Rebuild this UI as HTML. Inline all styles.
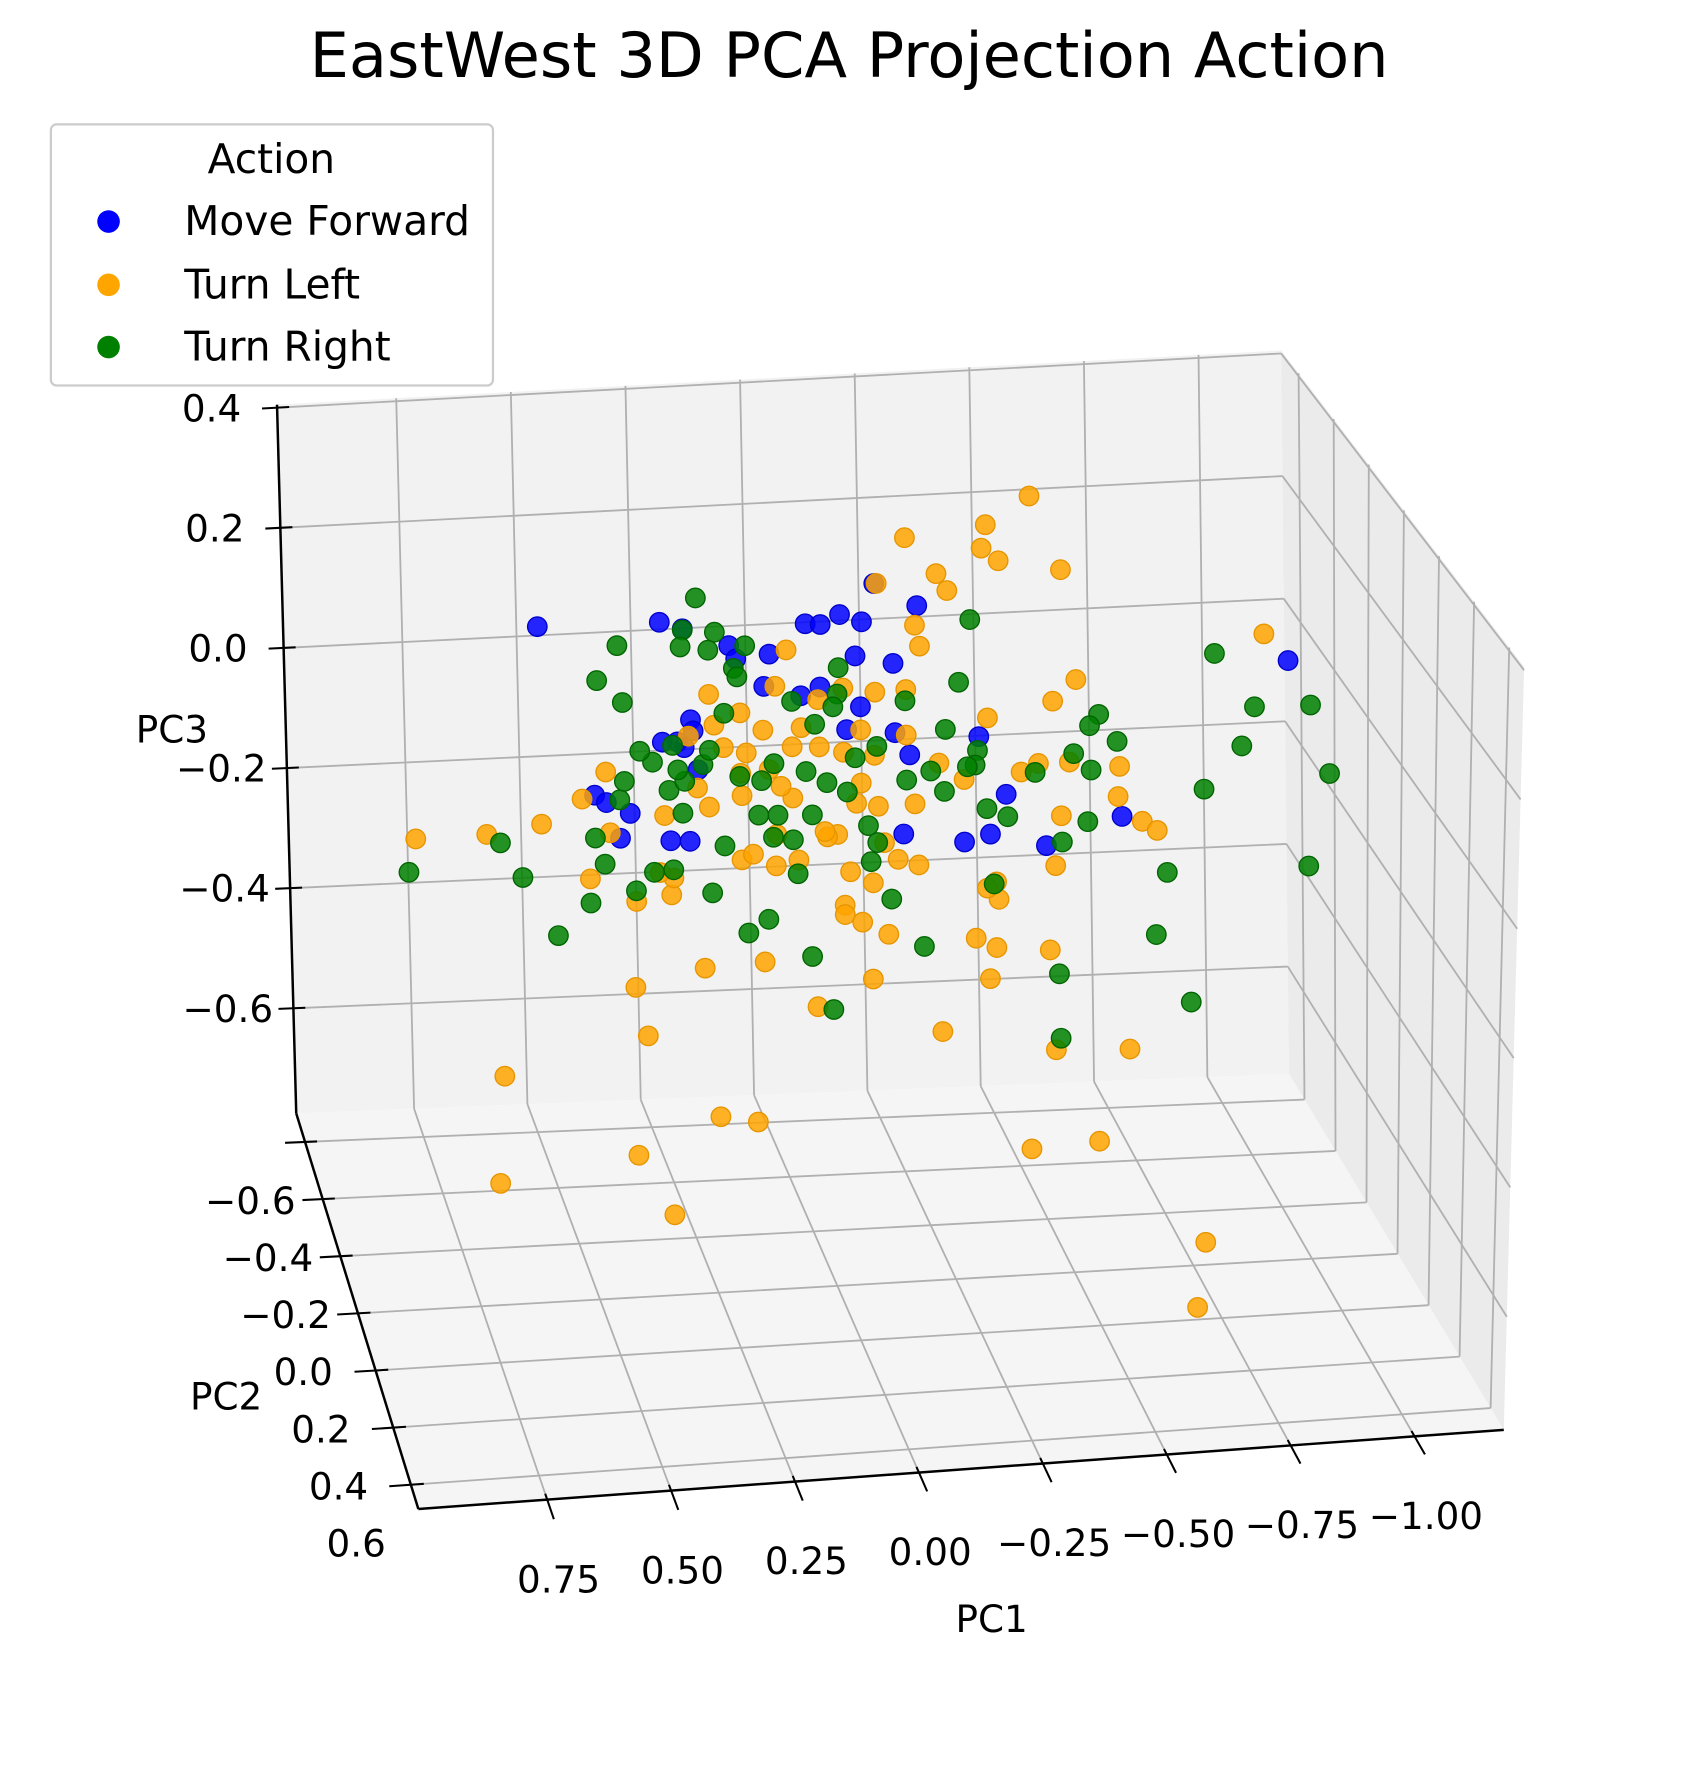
<!DOCTYPE html>
<html><head><meta charset="utf-8"><title>EastWest 3D PCA Projection Action</title>
<style>
html,body{margin:0;padding:0;background:#fff;}
svg{display:block;font-family:"DejaVu Sans","Liberation Sans",sans-serif;}
</style></head>
<body>
<svg id="chart" width="1696" height="1769" viewBox="0 0 1500 1565" preserveAspectRatio="none" xmlns="http://www.w3.org/2000/svg">
<rect x="0" y="0" width="1500" height="1565" fill="#fff"/>
<text x="751" y="68" font-size="55" text-anchor="middle" fill="#000">EastWest 3D PCA Projection Action</text>
<g id="panes"></g>
<g id="grid"></g>
<g id="axes"></g>
<g id="points"></g>
<text x="152" y="657" font-size="33" text-anchor="middle">PC3</text>
<text x="200" y="1247" font-size="33" text-anchor="middle">PC2</text>
<text x="877" y="1444" font-size="33" text-anchor="middle">PC1</text>
<g>
<rect x="45" y="110" width="391" height="231" rx="5" fill="#fff" fill-opacity="0.85" stroke="#cccccc" stroke-width="2"/>
<text x="240" y="153" font-size="36" text-anchor="middle">Action</text>
<g><circle cx="96" cy="196" r="10" fill="#0000ff"/><text x="163" y="208" font-size="36">Move Forward</text></g>
<g><circle cx="96" cy="252" r="10" fill="#ffa500"/><text x="163" y="264" font-size="36">Turn Left</text></g>
<g><circle cx="96" cy="307" r="10" fill="#008000"/><text x="163" y="319" font-size="36">Turn Right</text></g>
</g>
</svg>
<script>
// ---- data ----
const pc1Ticks = [0.75, 0.50, 0.25, 0.00, -0.25, -0.50, -0.75, -1.00];
const pc1TickLabels = ["0.75", "0.50", "0.25", "0.00", "\u22120.25", "\u22120.50", "\u22120.75", "\u22121.00"];
const pc2Ticks = [-0.8, -0.6, -0.4, -0.2, 0.0, 0.2, 0.4];
const pc2LabelValues = [-0.6, -0.4, -0.2, 0.0, 0.2, 0.4, 0.6];
const pc2TickLabels = ["\u22120.6", "\u22120.4", "\u22120.2", "0.0", "0.2", "0.4", "0.6"];
const pc3Ticks = [0.4, 0.2, 0.0, -0.2, -0.4, -0.6];
const pc3TickLabels = ["0.4", "0.2", "0.0", "\u22120.2", "\u22120.4", "\u22120.6"];

const forwardPC1 = [0.607,0.356,0.309,0.214,0.200,0.131,0.056,0.025,-0.015,-0.060,-0.086,-0.174,-0.046,-0.124,0.027,0.067,0.143,-0.027,-0.056,-0.127,-0.300,-0.157,0.295,0.290,0.323,0.354,0.309,0.281,0.496,0.472,0.423,0.444,0.340,0.300,-0.143,-0.269,-0.323,-0.356,-0.439,-0.596,-0.939];
const forwardPC3 = [0.310,0.304,0.291,0.259,0.237,0.241,0.286,0.283,0.297,0.283,0.343,0.303,0.229,0.213,0.183,0.171,0.190,0.112,0.147,0.102,0.087,0.065,0.144,0.126,0.110,0.111,0.100,0.063,0.033,0.020,0.000,-0.039,-0.048,-0.051,-0.061,-0.080,-0.070,-0.008,-0.094,-0.055,0.176];

const leftPC1 = [-0.406,-0.316,-0.150,-0.307,-0.342,-0.470,-0.214,-0.236,-0.091,-0.169,-0.179,0.096,-0.889,-0.501,-0.453,-0.086,-0.318,0.032,0.120,0.257,0.247,0.193,0.146,0.086,0.181,0.193,0.134,0.030,-0.020,-0.084,-0.217,-0.387,-0.423,-0.487,-0.591,0.472,0.283,0.352,0.259,0.191,0.522,0.607,0.721,0.868,0.465,-0.470,-0.638,-0.669,-0.167,-0.046,-0.091,-0.006,0.015,0.120,0.193,0.122,0.075,0.020,-0.032,-0.079,-0.131,-0.174,-0.103,-0.458,-0.335,-0.340,-0.316,-0.020,-0.056,-0.020,-0.292,-0.335,-0.446,-0.110,0.148,0.273,-0.077,-0.321,0.039,0.418,0.394,-0.221,-0.458,-0.612,0.695,0.245,0.167,0.418,0.709,0.345,-0.406,-0.548,-0.771,-0.754,0.508,0.413,0.340,0.335,0.363,0.169,0.086,0.110,0.300,0.228,-0.150,-0.056,-0.056,-0.150,0.067,-0.020,-0.269,-0.588];
const leftPC3 = [0.466,0.425,0.413,0.388,0.366,0.345,0.352,0.324,0.343,0.272,0.238,0.246,0.221,0.168,0.136,0.169,0.116,0.163,0.189,0.183,0.133,0.150,0.120,0.090,0.085,0.053,0.056,0.087,0.076,0.068,0.049,0.026,0.038,0.037,0.025,0.069,0.034,-0.007,0.002,0.017,0.028,-0.008,-0.019,-0.019,-0.029,-0.048,-0.065,-0.081,-0.014,-0.007,-0.014,-0.055,-0.058,-0.049,-0.086,-0.099,-0.092,-0.049,-0.116,-0.136,-0.101,-0.112,-0.073,-0.127,-0.147,-0.175,-0.156,-0.169,-0.198,-0.184,-0.235,-0.252,-0.261,-0.220,-0.252,-0.256,-0.290,-0.301,-0.329,-0.280,-0.359,-0.381,-0.421,-0.427,-0.410,-0.496,-0.508,-0.550,-0.582,-0.649,-0.577,-0.571,-0.742,-0.845,-0.101,-0.142,-0.135,-0.108,-0.098,-0.078,0.008,0.028,0.118,0.096,0.097,0.025,0.110,0.170,0.120,0.179,0.020,-0.023];

const rightPC1 = [0.281,0.309,0.243,0.444,0.314,0.257,0.181,0.205,0.198,0.487,0.435,0.226,-0.011,-0.008,-0.148,-0.283,-0.259,0.086,0.001,0.039,-0.787,-0.870,-0.986,-0.844,-1.026,-0.548,-0.529,-0.496,-0.586,-0.231,-0.297,-0.292,-0.416,-0.532,-0.316,-0.359,-0.276,-0.200,-0.228,-0.150,-0.766,-0.525,-0.472,-0.690,-0.984,-0.667,-0.740,-0.465,-0.468,-0.330,-0.184,-0.117,-0.075,-0.089,-0.070,0.046,0.086,0.077,0.139,0.181,0.049,0.006,0.255,0.228,0.314,0.413,0.375,0.335,0.342,0.309,0.271,0.375,0.401,0.333,0.257,0.195,0.150,0.124,0.058,0.015,-0.027,-0.044,-0.089,0.117,0.127,0.157,0.496,0.477,0.444,0.508,0.577,0.648,0.693,0.884,0.434,0.323];
const rightPC3 = [0.339,0.289,0.282,0.271,0.262,0.254,0.257,0.222,0.208,0.217,0.179,0.151,0.212,0.170,0.152,0.275,0.176,0.163,0.150,0.124,0.195,0.106,0.103,0.045,-0.008,0.110,0.093,0.050,0.065,0.102,0.065,0.042,0.024,0.022,-0.029,-0.044,0.040,0.037,0.003,0.025,-0.020,-0.060,-0.090,-0.149,-0.153,-0.247,-0.358,-0.300,-0.403,-0.150,-0.243,-0.164,-0.102,-0.072,-0.044,-0.021,-0.059,-0.114,-0.184,-0.204,-0.248,-0.335,-0.136,-0.062,-0.005,-0.125,-0.097,-0.095,0.033,0.046,0.071,0.080,0.099,0.105,0.093,0.048,0.039,0.065,0.049,0.029,0.012,0.066,0.082,-0.018,-0.053,-0.016,-0.036,-0.079,0.023,-0.140,-0.189,-0.092,-0.034,-0.072,0.052,0.065];

// ---- axis functions (3D box projection) ----
const X_MIN = 1.01, X_MAX = -1.18;   // PC1 left -> right
const Y_MIN = -0.90, Y_MAX = 0.485;  // PC2 back -> front
const Z_MIN = -0.775, Z_MAX = 0.405; // PC3 bottom -> top
const PC2_DEPTH = -0.2075;           // depth plane used for projected points
const C = {
  "000":[262,985], "100":[1140,950], "010":[370,1335], "110":[1330,1265],
  "001":[245,358], "101":[1133,310], "011":[350,670], "111":[1348,590]
};
function lerp(a,b,t){return [a[0]+(b[0]-a[0])*t, a[1]+(b[1]-a[1])*t];}
function proj(u,v,w){
  const b0 = lerp(lerp(C["000"],C["100"],u), lerp(C["010"],C["110"],u), v);
  const b1 = lerp(lerp(C["001"],C["101"],u), lerp(C["011"],C["111"],u), v);
  return lerp(b0,b1,w);
}
function uOf(x){return (x-X_MIN)/(X_MAX-X_MIN);}
function vOf(y){return (y-Y_MIN)/(Y_MAX-Y_MIN);}
function wOf(z){return (z-Z_MIN)/(Z_MAX-Z_MIN);}
function P(x,y,z){return proj(uOf(x),vOf(y),wOf(z));}

const NS = "http://www.w3.org/2000/svg";
function mk(tag, attrs, parent){
  const e = document.createElementNS(NS, tag);
  for (const k in attrs) e.setAttribute(k, attrs[k]);
  parent.appendChild(e);
  return e;
}
function poly(pts){return pts.map(p=>p[0].toFixed(1)+","+p[1].toFixed(1)).join(" ");}

const panes = document.getElementById("panes");
const grid = document.getElementById("grid");
const axes = document.getElementById("axes");
const pts = document.getElementById("points");

let e;
e = mk("polygon",{points:poly([proj(0,0,0),proj(1,0,0),proj(1,0,1),proj(0,0,1)]),fill:"#f2f2f2"},panes);


e = mk("polygon",{points:poly([proj(1,0,0),proj(1,1,0),proj(1,1,1),proj(1,0,1)]),fill:"#ebebeb"},panes);


e = mk("polygon",{points:poly([proj(0,0,0),proj(1,0,0),proj(1,1,0),proj(0,1,0)]),fill:"#f5f5f5"},panes);



function gl(a,b,name){
  const l = mk("line",{x1:a[0],y1:a[1],x2:b[0],y2:b[1],stroke:"#b0b0b0","stroke-width":1.6},grid);
  
  
}
pc1Ticks.forEach(t=>{
  const u = uOf(t);
  gl(proj(u,0,0), proj(u,0,1), 'pc1-gridline-back');
  gl(proj(u,0,0), proj(u,1,0), 'pc1-gridline-floor');
});
pc2Ticks.forEach(t=>{
  const v = vOf(t);
  gl(proj(1,v,0), proj(1,v,1), 'pc2-gridline-side');
  gl(proj(0,v,0), proj(1,v,0), 'pc2-gridline-floor');
});
pc3Ticks.forEach(t=>{
  const w = wOf(t);
  gl(proj(0,0,w), proj(1,0,w), 'pc3-gridline-back');
  gl(proj(1,0,w), proj(1,1,w), 'pc3-gridline-side');
});

function al(a,b,name,wd){
  const l = mk("line",{x1:a[0],y1:a[1],x2:b[0],y2:b[1],stroke:"#000","stroke-width":wd||2.2},axes);
  
  
}
al(proj(0,0,0), proj(0,0,1), 'z-axis-line');
al(proj(0,0,0), proj(0,1,0), 'y-axis-line');
al(proj(0,1,0), proj(1,1,0), 'x-axis-line');

function tx(p, s, name, anchor){
  const t = mk("text",{x:p[0].toFixed(1),y:p[1].toFixed(1),"font-size":33,"text-anchor":anchor||"middle",fill:"#000"},axes);
  t.textContent = s;
  
  
}
pc3Ticks.forEach((t,i)=>{
  const w = wOf(t);
  al(proj(-0.015,0,w), proj(0.012,0,w), 'z-tick', 1.8);
  const p = proj(0,0,w);
  tx([p[0]-58, p[1]+12], pc3TickLabels[i], 'z-tick-label');
});
pc2Ticks.forEach(t=>{
  const v = vOf(t);
  al(proj(-0.02,v,0), proj(0.012,v,0), 'y-tick', 1.8);
});
pc2LabelValues.forEach((t,i)=>{
  const p = proj(0,vOf(t),0);
  tx([p[0]-64, p[1]+13], pc2TickLabels[i], 'y-tick-label');
});
pc1Ticks.forEach((t,i)=>{
  const u = uOf(t);
  al(proj(u,0.985,0), proj(u,1.05,0), 'x-tick', 1.8);
  const p = proj(u,1,0);
  tx([p[0]+10, p[1]+82], pc1TickLabels[i], 'x-tick-label');
});

function drawSeries(xs, zs, color, stroke, name){
  xs.forEach((x,i)=>{
    const p = P(x, PC2_DEPTH, zs[i]);
    const c = mk("circle",{cx:(p[0]+3).toFixed(1),cy:p[1].toFixed(1),r:8.6,fill:color,"fill-opacity":0.85,stroke:stroke,"stroke-width":1.2},pts);
    
    
  });
}
drawSeries(forwardPC1, forwardPC3, "#0000ff", "#0000cc", "point-move-forward");
drawSeries(leftPC1, leftPC3, "#ffa500", "#e69500", "point-turn-left");
drawSeries(rightPC1, rightPC3, "#008000", "#006400", "point-turn-right");
</script>
</body></html>
